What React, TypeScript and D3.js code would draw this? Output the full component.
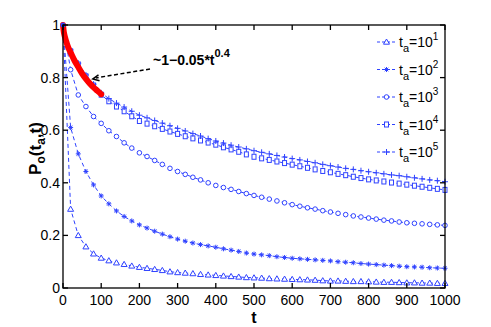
import React, { useRef, useEffect } from "react";
import * as d3 from "d3";

// sample times of the blue curves (a marker every 20)
const tSteps = d3.range(0, 1001, 20);

const ta1 = [1.0, 0.30, 0.20, 0.157, 0.130, 0.114, 0.104, 0.096, 0.090, 0.084, 0.079, 0.075, 0.071, 0.067, 0.062, 0.059, 0.057, 0.055, 0.052, 0.050, 0.048, 0.046, 0.044, 0.042, 0.040, 0.039, 0.038, 0.036, 0.035, 0.034, 0.033, 0.032, 0.031, 0.030, 0.028, 0.027, 0.027, 0.026, 0.025, 0.025, 0.024, 0.023, 0.022, 0.022, 0.021, 0.020, 0.020, 0.019, 0.019, 0.018, 0.018];
const ta2 = [1.0, 0.61, 0.51, 0.443, 0.392, 0.350, 0.320, 0.293, 0.272, 0.255, 0.240, 0.228, 0.216, 0.205, 0.195, 0.186, 0.178, 0.171, 0.165, 0.160, 0.155, 0.149, 0.144, 0.139, 0.133, 0.129, 0.126, 0.123, 0.119, 0.116, 0.113, 0.111, 0.109, 0.107, 0.105, 0.103, 0.100, 0.098, 0.096, 0.093, 0.091, 0.089, 0.087, 0.085, 0.083, 0.081, 0.080, 0.079, 0.077, 0.076, 0.075];
const ta3 = [1.0, 0.83, 0.734, 0.690, 0.652, 0.626, 0.598, 0.576, 0.552, 0.532, 0.514, 0.500, 0.485, 0.470, 0.455, 0.443, 0.432, 0.421, 0.411, 0.400, 0.390, 0.382, 0.375, 0.367, 0.359, 0.352, 0.345, 0.338, 0.331, 0.324, 0.317, 0.311, 0.305, 0.300, 0.294, 0.289, 0.284, 0.279, 0.274, 0.270, 0.266, 0.262, 0.258, 0.255, 0.251, 0.248, 0.246, 0.244, 0.242, 0.240, 0.238];
const ta4 = [1.0, 0.90, 0.85, 0.805, 0.770, 0.735, 0.710, 0.690, 0.672, 0.653, 0.635, 0.625, 0.615, 0.605, 0.595, 0.586, 0.577, 0.569, 0.561, 0.553, 0.545, 0.535, 0.527, 0.518, 0.508, 0.499, 0.493, 0.487, 0.481, 0.475, 0.469, 0.463, 0.457, 0.451, 0.445, 0.440, 0.434, 0.429, 0.423, 0.418, 0.413, 0.409, 0.405, 0.401, 0.397, 0.393, 0.389, 0.385, 0.381, 0.377, 0.373];
const ta5 = [1.0, 0.905, 0.855, 0.810, 0.775, 0.742, 0.720, 0.703, 0.688, 0.672, 0.657, 0.647, 0.637, 0.627, 0.617, 0.607, 0.597, 0.587, 0.578, 0.568, 0.559, 0.551, 0.543, 0.536, 0.529, 0.522, 0.516, 0.510, 0.504, 0.498, 0.492, 0.487, 0.481, 0.476, 0.470, 0.465, 0.460, 0.455, 0.451, 0.446, 0.442, 0.438, 0.434, 0.430, 0.427, 0.423, 0.419, 0.415, 0.411, 0.408, 0.404];

// red fit 1-0.05*t^0.4 shown for t <= 100
const redT = [0, 2, 5, 10, 15, 20, 30, 40, 50, 60, 70, 80, 90, 100];
const redP = [1.0, 0.975, 0.955, 0.93, 0.91, 0.895, 0.865, 0.84, 0.815, 0.795, 0.778, 0.763, 0.75, 0.737];

const xTicks = [0, 100, 200, 300, 400, 500, 600, 700, 800, 900, 1000];
const yTicks = [0, 0.2, 0.4, 0.6, 0.8, 1];
const legendExp = ["1", "2", "3", "4", "5"];
const markerKinds = ["triangle", "star", "circle", "square", "plus"];
const seriesList = [ta1, ta2, ta3, ta4, ta5];

const BLUE = "#2f42ff";
const FONT = "'Liberation Sans Narrow', 'Liberation Sans', Arial, sans-serif";

function drawMarker(g, kind, x, y) {
  if (kind === "triangle") {
    g.append("path")
      .attr("d", `M${x},${y - 3}L${x + 3},${y + 2.2}L${x - 3},${y + 2.2}Z`)
      .attr("fill", "white").attr("stroke", BLUE).attr("stroke-width", 1);
  } else if (kind === "circle") {
    g.append("circle").attr("cx", x).attr("cy", y).attr("r", 2.3)
      .attr("fill", "white").attr("stroke", BLUE).attr("stroke-width", 1);
  } else if (kind === "square") {
    g.append("rect").attr("x", x - 2).attr("y", y - 2.5).attr("width", 4).attr("height", 5)
      .attr("fill", "white").attr("stroke", BLUE).attr("stroke-width", 1);
  } else if (kind === "plus") {
    g.append("path").attr("d", `M${x - 3},${y}H${x + 3}M${x},${y - 3}V${y + 3}`)
      .attr("stroke", BLUE).attr("stroke-width", 1);
  } else {
    g.append("path")
      .attr("d", `M${x - 2.5},${y}H${x + 2.5}M${x},${y - 2.5}V${y + 2.5}M${x - 1.8},${y - 1.8}L${x + 1.8},${y + 1.8}M${x - 1.8},${y + 1.8}L${x + 1.8},${y - 1.8}`)
      .attr("stroke", BLUE).attr("stroke-width", 1);
  }
}

const App = () => {
  const svgRef = useRef(null);

  useEffect(() => {
    const width = 491;
    const height = 327;
    const margin = { left: 63, right: 46, top: 25, bottom: 39 };

    const svg = d3.select(svgRef.current);
    svg.selectAll("*").remove();
    svg.attr("width", width).attr("height", height);

    svg.append("rect").attr("width", width).attr("height", height).attr("fill", "white");

    const x = d3.scaleLinear().domain([0, 1000]).range([margin.left, width - margin.right]);
    const y = d3.scaleLinear().domain([0, 1]).range([height - margin.bottom, margin.top]);

    const g = svg.append("g");

    // blue curves
    seriesList.forEach((vals, i) => {
      const pts = tSteps.map((t, j) => [t, vals[j]]);
      g.append("path")
        .datum(pts)
        .attr("d", d3.line().x(d => x(d[0])).y(d => y(d[1])))
        .attr("fill", "none")
        .attr("stroke", BLUE)
        .attr("stroke-width", 1)
        .attr("stroke-dasharray", "4,3");
      pts.slice(1).forEach(d => drawMarker(g, markerKinds[i], x(d[0]), y(d[1])));
    });

    // red fit
    g.append("path")
      .datum(redT.map((t, j) => [t, redP[j]]))
      .attr("d", d3.line().x(d => x(d[0])).y(d => y(d[1])).curve(d3.curveMonotoneX))
      .attr("fill", "none")
      .attr("stroke", "#ff0000")
      .attr("stroke-width", 6)
      .attr("stroke-linecap", "round");

    g.append("circle").attr("cx", x(0)).attr("cy", y(1)).attr("r", 2.5).attr("fill", BLUE);

    // frame + ticks
    const axes = svg.append("g").attr("stroke", "black").attr("stroke-width", 1.3);
    axes.append("rect")
      .attr("x", x(0)).attr("y", y(1))
      .attr("width", x(1000) - x(0)).attr("height", y(0) - y(1))
      .attr("fill", "none");
    xTicks.forEach(t => {
      axes.append("line").attr("x1", x(t)).attr("x2", x(t)).attr("y1", y(0)).attr("y2", y(0) - 5);
      axes.append("line").attr("x1", x(t)).attr("x2", x(t)).attr("y1", y(1)).attr("y2", y(1) + 5);
    });
    yTicks.forEach(v => {
      axes.append("line").attr("x1", x(0)).attr("x2", x(0) + 5).attr("y1", y(v)).attr("y2", y(v));
      axes.append("line").attr("x1", x(1000)).attr("x2", x(1000) - 5).attr("y1", y(v)).attr("y2", y(v));
    });

    const labels = svg.append("g").attr("font-family", FONT).attr("fill", "black");
    labels.selectAll(".xt").data(xTicks).enter().append("text")
      .attr("x", d => x(d)).attr("y", y(0) + 17)
      .attr("text-anchor", "middle").attr("font-size", 14)
      .text(d => d);
    labels.selectAll(".yt").data(yTicks).enter().append("text")
      .attr("x", x(0) - 3).attr("y", d => y(d) + 5)
      .attr("text-anchor", "end").attr("font-size", 14)
      .text(d => d);

    labels.append("text")
      .attr("x", x(500)).attr("y", 323)
      .attr("text-anchor", "middle").attr("font-size", 16).attr("font-weight", "bold")
      .text("t");

    const yl = labels.append("text")
      .attr("transform", `translate(41,${(y(0) + y(1)) / 2 - 8}) rotate(-90)`)
      .attr("text-anchor", "middle").attr("font-size", 17).attr("font-weight", "bold");
    yl.append("tspan").text("P");
    yl.append("tspan").attr("dy", 4).attr("font-size", 12).text("o");
    yl.append("tspan").attr("dy", -4).text("(t");
    yl.append("tspan").attr("dy", 4).attr("font-size", 12).text("a");
    yl.append("tspan").attr("dy", -4).text(",t)");

    // legend
    const legend = svg.append("g");
    legendExp.forEach((e, i) => {
      const ly = 42 + i * 27.5;
      legend.append("line")
        .attr("x1", 377).attr("x2", 396).attr("y1", ly).attr("y2", ly)
        .attr("stroke", BLUE).attr("stroke-dasharray", "3,2");
      drawMarker(legend, markerKinds[i], 386.5, ly);
      const tx = legend.append("text")
        .attr("x", 399).attr("y", ly + 5)
        .attr("font-family", FONT).attr("font-size", 14);
      tx.append("tspan").text("t");
      tx.append("tspan").attr("dy", 5).attr("font-size", 11).text("a");
      tx.append("tspan").attr("dy", -5).text("=10");
      tx.append("tspan").attr("dy", -7).attr("font-size", 10).text(e);
    });

    // annotation with dashed arrow
    const ax1 = 150, ay1 = 69;
    const ax2 = x(78), ay2 = y(0.795);
    svg.append("line")
      .attr("x1", ax1).attr("y1", ay1).attr("x2", ax2 + 3).attr("y2", ay2 - 1)
      .attr("stroke", "black").attr("stroke-width", 1.5).attr("stroke-dasharray", "4,2.5");
    const ang = Math.atan2(ay1 - ay2, ax1 - ax2);
    const hl = 7;
    svg.append("path")
      .attr("d", `M${ax2 + hl * Math.cos(ang + 0.45)},${ay2 + hl * Math.sin(ang + 0.45)}L${ax2},${ay2}L${ax2 + hl * Math.cos(ang - 0.45)},${ay2 + hl * Math.sin(ang - 0.45)}`)
      .attr("fill", "none").attr("stroke", "black").attr("stroke-width", 1.5);

    const ann = svg.append("text")
      .attr("x", 153).attr("y", 65)
      .attr("font-family", FONT).attr("font-size", 14).attr("font-weight", "bold");
    ann.append("tspan").text("~1\u22120.05*t");
    ann.append("tspan").attr("dy", -8).attr("font-size", 11).text("0.4");
  }, []);

  return <svg ref={svgRef} style={{ position: "absolute", left: 0, top: 0 }}></svg>;
};

export default App;
